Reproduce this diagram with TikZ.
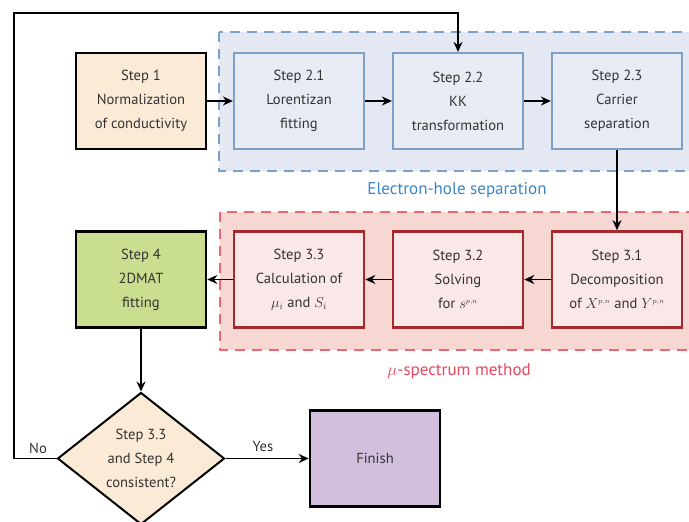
\documentclass[tikz,border=0pt]{standalone}
\usepackage{fontspec}
\setmainfont{PT Sans}
\usetikzlibrary{positioning, arrows.meta, shapes.geometric}

\definecolor{txtgray}{HTML}{333333}
\definecolor{beige}{HTML}{FBEBD6}
\definecolor{bluezone}{HTML}{E4E8F2}
\definecolor{blueline}{HTML}{7FA0C6}
\definecolor{bluebox}{HTML}{E7EBF4}
\definecolor{bluetext}{HTML}{3A85C6}
\definecolor{redzone}{HTML}{F6D7D1}
\definecolor{redline}{HTML}{EE6577}
\definecolor{redbox}{HTML}{FAE7E7}
\definecolor{darkred}{HTML}{A52A2E}
\definecolor{redtext}{HTML}{E8485E}
\definecolor{greenbox}{HTML}{C9DE8F}
\definecolor{purplebox}{HTML}{D2BEDD}

\begin{document}
\begin{tikzpicture}[x=1pt, y=-1pt, node distance=159pt, on grid,
    font=\fontsize{14.6}{24}\selectfont,
    >={Stealth[length=10pt,width=9pt]},
    box/.style={rectangle, minimum width=130pt, minimum height=96pt,
        align=center, text=txtgray, inner sep=2pt},
    blackbox/.style={box, draw=black, line width=2.6pt},
    bluestep/.style={box, draw=blueline, fill=bluebox, line width=2.2pt},
    redstep/.style={box, draw=darkred, fill=redbox, line width=2.6pt},
    decision/.style={diamond, draw=black, line width=2pt, fill=beige,
        minimum width=167pt, minimum height=132pt, inner sep=0pt,
        align=center, text=txtgray},
    zone/.style={dashed, dash pattern=on 10pt off 7pt, line width=2.2pt},
    line/.style={line width=1.8pt, draw=black}]
    \useasboundingbox (0,0) rectangle (689,522);

    % grouped regions
    \draw[zone, fill=bluezone, draw=blueline] (219,32) rectangle (694,171);
    \draw[zone, fill=redzone, draw=redline] (220,212) rectangle (694,350);
    \node[text=bluetext, font=\fontsize{17}{20}\selectfont] (elab) at (457,190) {Electron-hole separation};
    \node[text=redtext, font=\fontsize{17}{20}\selectfont] (mlab) at (459,371) {$\mu$-spectrum method};

    \node[blackbox, fill=beige] (s1) at (141,101) {Step 1\\Normalization\\of conductivity};
    \node[bluestep] (s21) [right=158pt of s1] {Step 2.1\\Lorentizan\\fitting};
    \node[bluestep] (s22) [right=of s21] {Step 2.2\\KK\\transformation};
    \node[bluestep] (s23) [right=of s22] {Step 2.3\\Carrier\\separation};
    \node[redstep] (s31) [below=178.5pt of s23] {Step 3.1\\Decomposition\\of $X^{\scriptscriptstyle p,n}$ and $Y^{\scriptscriptstyle p,n}$};
    \node[redstep] (s32) [left=of s31] {Step 3.2\\Solving\\for $s^{\scriptscriptstyle p,n}$};
    \node[redstep] (s33) [left=of s32] {Step 3.3\\Calculation of\\$\mu_i$ and $S_i$};
    \node[blackbox, fill=greenbox] (s4) [left=158pt of s33] {Step 4\\2DMAT\\fitting};
    \node[decision] (dec) [below=179pt of s4] {Step 3.3\\and Step 4\\consistent?};
    \node[blackbox, fill=purplebox] (fin) [right=234pt of dec] {Finish};

    \path[->, line]
    (s1) edge (s21)
    (s21) edge (s22)
    (s22) edge (s23)
    (s23) edge (s31)
    (s31) edge (s32)
    (s32) edge (s33)
    (s33) edge (s4)
    (s4) edge (dec)
    (dec) edge node[above=3pt, text=txtgray, pos=0.45] {Yes} (fin);

    % loop back for a new fit
    \coordinate (lp) at (14,13);
    \draw[->, line] (dec.west) -| (lp) -| (s22.north);
    \node[text=txtgray] (no) at (38,448) {No};
\end{tikzpicture}
\end{document}
